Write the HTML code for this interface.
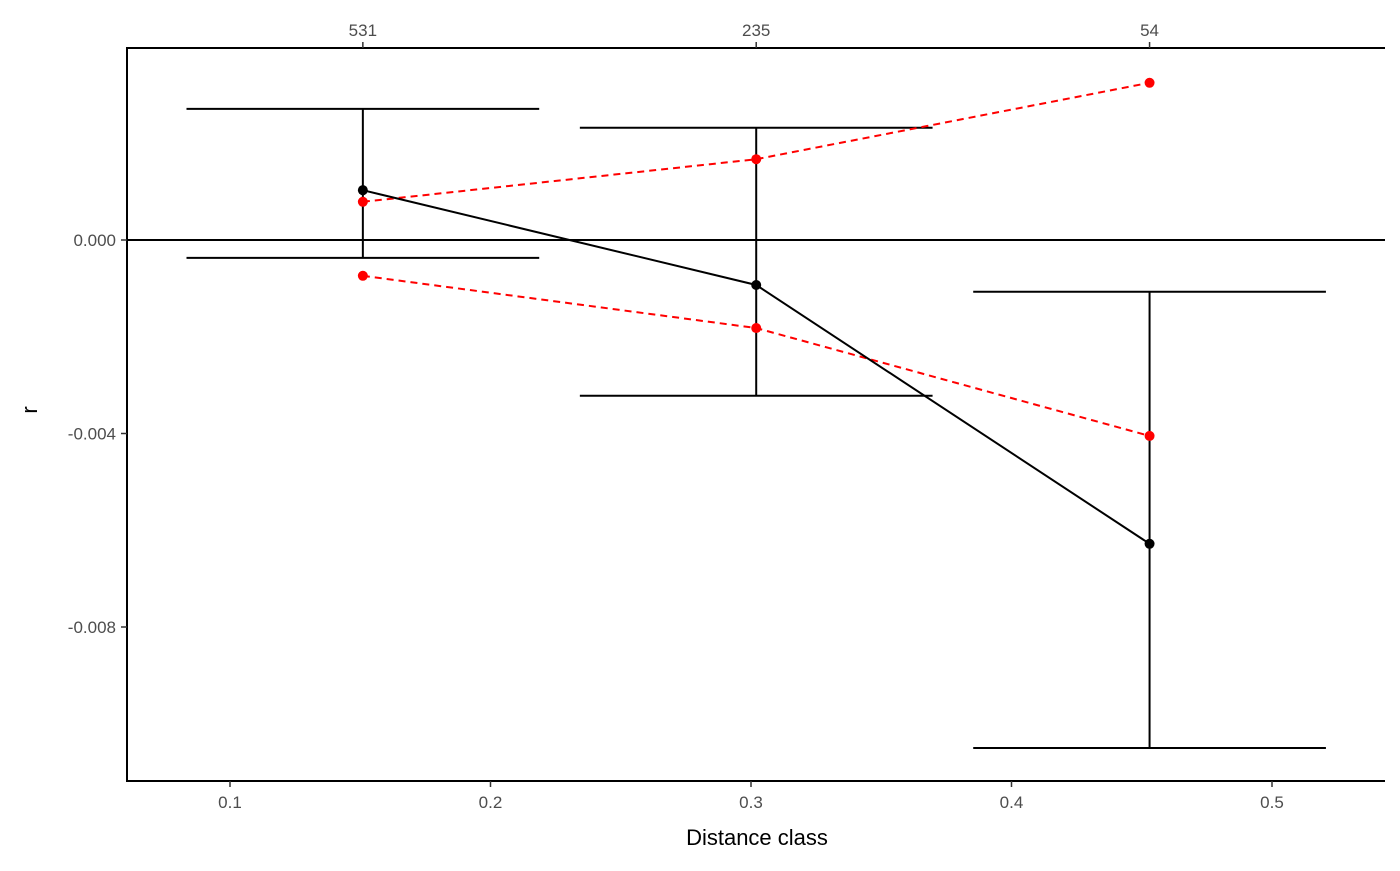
<!DOCTYPE html>
<html><head><meta charset="utf-8"><style>
body{margin:0;background:#fff;}
svg text{font-family:"Liberation Sans",Arial,sans-serif;}
</style></head><body>
<svg id="chart" width="1400" height="866" xmlns="http://www.w3.org/2000/svg">
<g id="g"></g>
</svg>
<script>
const distClass=[0.151,0.302,0.453];
const counts=["531","235","54"];
const rValues=[0.00103,-0.00093,-0.00628];
const ciUpper=[0.00271,0.00232,-0.00107];
const ciLower=[-0.00037,-0.00322,-0.0105];
const nullUpper=[0.00079,0.00167,0.00325];
const nullLower=[-0.00074,-0.00182,-0.00405];
const xTicks=[0.1,0.2,0.3,0.4,0.5];
const yTicks=[0,-0.004,-0.008];
const yTickLabels=["0.000","-0.004","-0.008"];
const capHalf=0.0677;

const X=v=>230+(v-0.1)*2605;
const Y=v=>240-v*48375;
const NS="http://www.w3.org/2000/svg";
const g=document.getElementById('g');
function mk(t,a,txt){const e=document.createElementNS(NS,t);for(const k in a)e.setAttribute(k,a[k]);if(txt!==undefined)e.textContent=txt;g.appendChild(e);return e;}

// axes
let e=mk('line',{x1:127,y1:48,x2:127,y2:782,stroke:'#000','stroke-width':2});

e=mk('line',{x1:126,y1:781,x2:1385,y2:781,stroke:'#000','stroke-width':2});

e=mk('line',{x1:126,y1:48,x2:1385,y2:48,stroke:'#000','stroke-width':2});

e=mk('line',{x1:127,y1:Y(0),x2:1385,y2:Y(0),stroke:'#000','stroke-width':2});


xTicks.forEach(t=>{
  e=mk('line',{x1:X(t),y1:781,x2:X(t),y2:787,stroke:'#333','stroke-width':1.5});
  
  e=mk('text',{x:X(t),y:808,'text-anchor':'middle','font-size':17,fill:'#4d4d4d'},String(t));
  
});
yTicks.forEach((t,i)=>{
  e=mk('line',{x1:121,y1:Y(t),x2:127,y2:Y(t),stroke:'#333','stroke-width':1.5});
  
  e=mk('text',{x:116,y:Y(t)+6,'text-anchor':'end','font-size':17,fill:'#4d4d4d'},yTickLabels[i]);
  
});
distClass.forEach((d,i)=>{
  e=mk('line',{x1:X(d),y1:42,x2:X(d),y2:48,stroke:'#333','stroke-width':1.5});
  
  e=mk('text',{x:X(d),y:36,'text-anchor':'middle','font-size':17,fill:'#4d4d4d'},counts[i]);
  
});
e=mk('text',{x:757,y:845,'text-anchor':'middle','font-size':22,fill:'#000'},'Distance class');

e=mk('text',{x:37,y:410,'text-anchor':'middle','font-size':22,fill:'#000',transform:'rotate(-90 37 410)'},'r');


// error bars
distClass.forEach((d,i)=>{
  e=mk('line',{x1:X(d),y1:Y(ciUpper[i]),x2:X(d),y2:Y(ciLower[i]),stroke:'#000','stroke-width':2});
  
  [ciUpper[i],ciLower[i]].forEach(v=>{
    e=mk('line',{x1:X(d-capHalf),y1:Y(v),x2:X(d+capHalf),y2:Y(v),stroke:'#000','stroke-width':2});
    
  });
});
function series(vals,color,dash,name){
  const pts=distClass.map((d,i)=>X(d)+','+Y(vals[i])).join(' ');
  e=mk('polyline',{points:pts,fill:'none',stroke:color,'stroke-width':2,'stroke-dasharray':dash});
  
  distClass.forEach((d,i)=>{
    e=mk('circle',{cx:X(d),cy:Y(vals[i]),r:5,fill:color});
    
  });
}
series(nullUpper,'#ff0000','7 5','null-upper');
series(nullLower,'#ff0000','7 5','null-lower');
series(rValues,'#000','none','r');
</script>
</body></html>
